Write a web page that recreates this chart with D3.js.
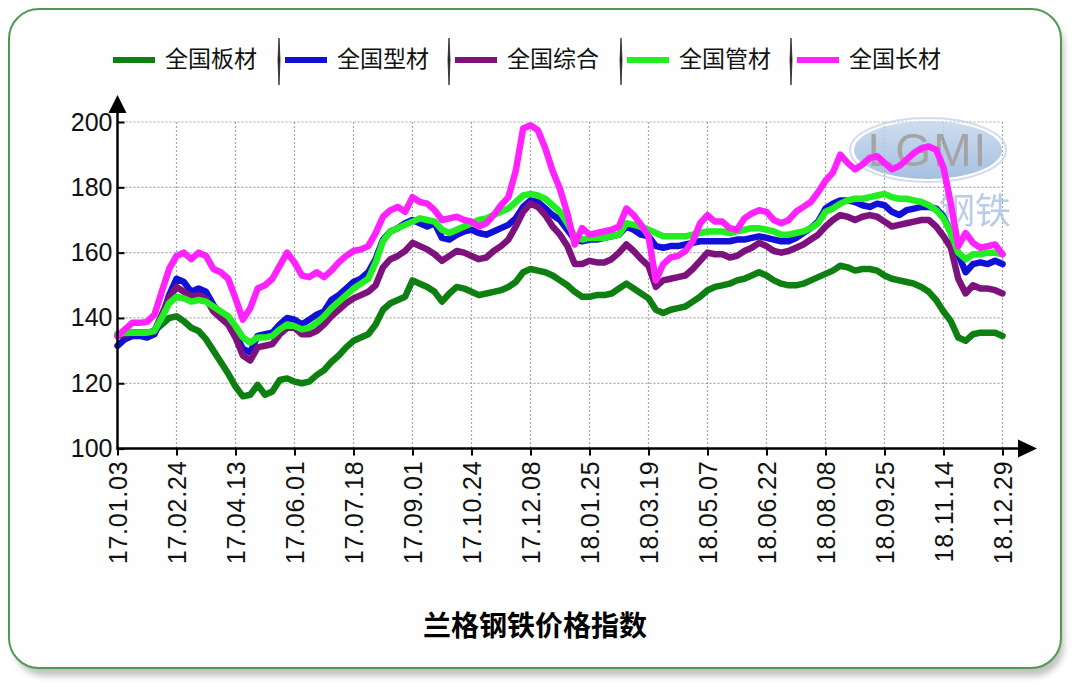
<!DOCTYPE html>
<html><head><meta charset="utf-8">
<script src="https://cdn.jsdelivr.net/npm/d3@7"></script>
<style>html,body{margin:0;padding:0;background:#fff;}svg{display:block;}</style>
</head><body>
<div id="chart"></div>
<script>
const xLabels = ["17.01.03","17.02.24","17.04.13","17.06.01","17.07.18","17.09.01","17.10.24","17.12.08","18.01.25","18.03.19","18.05.07","18.06.22","18.08.08","18.09.25","18.11.14","18.12.29"];
const yTicks = [100,120,140,160,180,200];
const seriesNames = ["全国板材","全国型材","全国综合","全国管材","全国长材"];
const seriesColors = ["#0e8012","#1010d8","#7e127c","#22ee22","#ff22ff"];

const banCai = [135,135.5,135.5,135.5,135.5,136,138,140,140.5,139,137,136,133.5,130,126.5,123,119,116,116.5,119.5,116.5,117.5,121,121.5,120.5,
120,120.5,122.5,124,126.5,128.5,131,133,134,135,138,142.5,144.5,145.5,146.5,151.5,150.5,149.5,148,145,147.5,149.5,149,148,
147,147.5,148,148.5,149.5,151,154,155,154.5,154,153,151.5,150,148,146.5,146.5,147,147,147.5,149,150.5,149,147.5,146,
142.5,141.5,142.5,143,143.5,145,146.5,148.5,149.5,150,150.5,151.5,152,153,154,153,151.5,150.5,150,150,150.5,151.5,152.5,153.5,
154.5,156,155.5,154.5,155,155,154.5,153,152,151.5,151,150.5,149.5,148,145.5,142,139,134,133,135,135.5,135.5,135.5,134.5];

const xingCai = [131.5,133.5,134.5,134.5,134,135,140,147,152,151,148,149,148,144,141,139,135,130.5,129.5,134.5,135,135.5,138,140,139.5,
138,139.5,141,142,145.5,147,149,151,152,154,158,164,166.5,167.5,169,170,169,168,169,164.5,164,165.5,166.5,167,
166,165.5,166.5,167.5,168.5,170.5,174,176,175.5,173.5,171.5,170,167,164,163.5,164,164,164.5,165,165.5,168,167,165.5,165,
162,161.5,162,162,162.5,163,163.5,163.5,163.5,163.5,163.5,164,164,164.5,165,164.5,164,163.5,163.5,164.5,166,167.5,169.5,173.5,
175,176,176,175.5,174.5,174,175,174.5,172.5,171.5,173,173.5,174,174,173.5,171,166,159.5,154,156.5,157,156.5,157.5,156.5];

const zongHe = [134.5,135,135.5,135.5,135.5,136,141,146,149.5,148,146.5,147,146,142,140,138,134,128.5,127,131,131.5,132,135,137,137,
135,135,136,138,140.5,142.5,144.5,146,147,148,150,155.5,158,159,160.5,163,162,161,159.5,157.5,159,160.5,160,159,
158,158.5,160.5,162,164,168,172.5,175,174,171.5,168,165.5,162,156.5,156.5,157.5,157,157,158,160,162.5,160.5,158,156,
149.5,151.5,152,152.5,153,155,157.5,160,159.5,159.5,158.5,159,160.5,161.5,163,162,160.5,160,160.5,161.5,162.5,164,165.5,168,
170,171.5,171,170,171,171.5,171,169.5,168,168.5,169,169.5,170,170,168,165,161.5,152,147.5,150,149,149,148.5,147.5];

const guanCai = [135,135.5,135.5,135.5,135.5,136,140,144.5,146.5,146,145,145.5,145,143.5,142,140.5,137.5,134,132.5,134,134,134.5,136.5,138,137.5,
136.5,137,138.5,140.5,143,145,147,149,150.5,152,157,163.5,166.5,167.5,168.5,169.5,170.5,170,169.5,167,166,167,168,169,
170,170.5,171.5,172.5,173.5,175.5,177.5,178,177.5,176.5,174.5,172.5,169,165,164,164.5,164.5,164.5,165,165.5,169,168.5,168,167,
166,165,165,165,165,165.5,166,166.5,166.5,166.5,166,166.5,167,167.5,167.5,167,166.5,165.5,165.5,166,166.5,167.5,169,172.5,
173.5,175,176,176.5,176.5,177,177.5,178,177,176.5,176.5,176,175.5,174.5,173,170.5,166,160,158,159.5,159.5,160,160,159.5];

const changCai = [134.5,136.5,138.5,138.5,138.8,141,148,155,159,160,158,160,159,155,154,152,146,139.5,143,149,150,152,156,160,157,
153,152.5,154,152.5,154.5,157,159,160.5,161,162,166,171,173,174,172.5,177,175.5,175,173,170,170.5,171,170,169.5,
168,169,171.5,174.5,177,185,198,199,197.5,192,185,179.5,172,162.5,167.5,165.5,166,166.5,167,168,173.5,171.5,168.5,165,
151.5,156.5,158.5,159,160.5,163.5,169,171.5,169.5,169.5,167.5,167,170.5,172,173,172.5,170,169,170,172.5,174,175.5,178.5,182,
184.5,190,187.5,185.5,187,189,189.5,187.5,185.5,186.5,188.5,190.5,192,192.5,191.5,186,175,162,166,163,161.5,162,162.5,159.5];

const allSeries = [banCai, xingCai, zongHe, guanCai, changCai];
const perTick = 8;

const W = 1080, H = 687;
const svg = d3.select("#chart").append("svg").attr("width", W).attr("height", H);
const defs = svg.append("defs");
const f = defs.append("filter").attr("id","sh").attr("x","-5%").attr("y","-5%").attr("width","110%").attr("height","115%");
f.append("feGaussianBlur").attr("stdDeviation",3);
const lgr = defs.append("linearGradient").attr("id","wmg").attr("x1","0").attr("y1","0").attr("x2","0").attr("y2","1");
lgr.append("stop").attr("offset","0").attr("stop-color","#c4d6ee");
lgr.append("stop").attr("offset","1").attr("stop-color","#8fb1da");

// frame
svg.append("rect").attr("x",14).attr("y",16).attr("width",1050).attr("height",660).attr("rx",30)
  .attr("fill","#9a9a9a").attr("opacity",0.6).attr("filter","url(#sh)");
svg.append("rect").attr("x",9).attr("y",9).attr("width",1052).attr("height",659).attr("rx",30)
  .attr("fill","#fdfefd").attr("stroke","#4e9a52").attr("stroke-width",2);

const x = d3.scaleLinear().domain([0,(xLabels.length-1)*perTick]).range([117.5,1002.5]);
const y = d3.scaleLinear().domain([100,200]).range([448.6,122]);

// grid
const g = svg.append("g");
g.selectAll("line.hg").data(yTicks.filter(d=>d>100)).join("line")
  .attr("x1",x(0)).attr("x2",x.range()[1]).attr("y1",d=>y(d)).attr("y2",d=>y(d))
  .attr("stroke","#a8a8a8").attr("stroke-width",1.2).attr("stroke-dasharray","2,2");
g.selectAll("line.vg").data(xLabels.map((d,i)=>i*perTick).slice(1)).join("line")
  .attr("x1",d=>x(d)).attr("x2",d=>x(d)).attr("y1",y(200)).attr("y2",y(100))
  .attr("stroke","#a8a8a8").attr("stroke-width",1.2).attr("stroke-dasharray","2,2");

// watermark
const wm = svg.append("g").attr("opacity",0.8);
wm.append("ellipse").attr("cx",928).attr("cy",150).attr("rx",74).attr("ry",29).attr("fill","url(#wmg)");
wm.append("ellipse").attr("cx",928).attr("cy",150).attr("rx",78).attr("ry",32).attr("fill","none").attr("stroke","#c9d4e6").attr("stroke-width",2);
wm.append("text").attr("x",928).attr("y",166).attr("text-anchor","middle").attr("font-family","Liberation Sans, Arial").attr("font-size",46)
  .attr("fill","#8e8e8e").attr("letter-spacing",2).text("LGMI");
wm.append("text").attr("x",975).attr("y",224).attr("text-anchor","middle").attr("font-family","Noto Sans CJK SC").attr("font-size",36)
  .attr("fill","#a9c2e2").text("钢铁");

// lines
const line = d3.line().x((d,i)=>x(i)).y(d=>y(d));
svg.append("g").selectAll("path").data(allSeries).join("path")
  .attr("d",line).attr("fill","none").attr("stroke",(d,i)=>seriesColors[i])
  .attr("stroke-width",6.5).attr("stroke-linejoin","round").attr("stroke-linecap","round");

// axes
const yAxis = d3.axisLeft(y).tickValues(yTicks).tickSize(-7).tickPadding(13).tickFormat(d3.format("d"));
const ya = svg.append("g").attr("transform",`translate(${x(0)},0)`).call(yAxis);
ya.select(".domain").remove();
ya.selectAll(".tick line").attr("stroke","#000").attr("stroke-width",2);
ya.selectAll(".tick text").attr("font-family","Liberation Sans, Arial").attr("font-size",25).attr("fill","#111").attr("x",-5);

const xAxis = d3.axisBottom(x).tickValues(xLabels.map((d,i)=>i*perTick)).tickSize(7).tickFormat((d,i)=>xLabels[i]);
const xa = svg.append("g").attr("transform",`translate(0,${y(100)})`).call(xAxis);
xa.select(".domain").remove();
xa.selectAll(".tick line").attr("stroke","#000").attr("stroke-width",2);
xa.selectAll(".tick text").attr("font-family","Liberation Sans, Arial").attr("font-size",25).attr("fill","#111")
  .attr("letter-spacing",0.8)
  .attr("text-anchor","end").attr("transform","rotate(-90)").attr("x",-12).attr("y",0).attr("dy","0.36em");

svg.append("line").attr("x1",x(0)).attr("x2",x(0)).attr("y1",y(100)+1).attr("y2",108).attr("stroke","#000").attr("stroke-width",2.5);
svg.append("path").attr("d",`M${x(0)},95 L${x(0)-9},113 L${x(0)+9},113 Z`).attr("fill","#000");
svg.append("line").attr("x1",x(0)-1).attr("x2",1022).attr("y1",y(100)).attr("y2",y(100)).attr("stroke","#000").attr("stroke-width",2.5);
svg.append("path").attr("d",`M1037,${y(100)} L1018,${y(100)-9} L1018,${y(100)+9} Z`).attr("fill","#000");

// legend
const legX = [113,285,455,627,797];
const lg = svg.append("g");
seriesNames.forEach((n,i)=>{
  lg.append("line").attr("x1",legX[i]).attr("x2",legX[i]+42).attr("y1",60).attr("y2",60)
    .attr("stroke",seriesColors[i]).attr("stroke-width",6);
  lg.append("text").attr("x",legX[i]+52).attr("y",61).attr("dominant-baseline","middle")
    .attr("font-family","Noto Sans CJK SC").attr("font-size",23).attr("fill","#111").text(n);
  if(i>0){
    lg.append("path").attr("d",`M${legX[i]-6},38 L${legX[i]-5},60 L${legX[i]-6},85 L${legX[i]-7},60 Z`)
      .attr("fill","#222").attr("stroke","#222").attr("stroke-width",0.8);
  }
});

// title
svg.append("text").attr("x",535).attr("y",628).attr("text-anchor","middle").attr("dominant-baseline","middle")
  .attr("font-family","Noto Sans CJK SC").attr("font-weight","bold").attr("font-size",28).attr("fill","#000")
  .text("兰格钢铁价格指数");
</script>
</body></html>
